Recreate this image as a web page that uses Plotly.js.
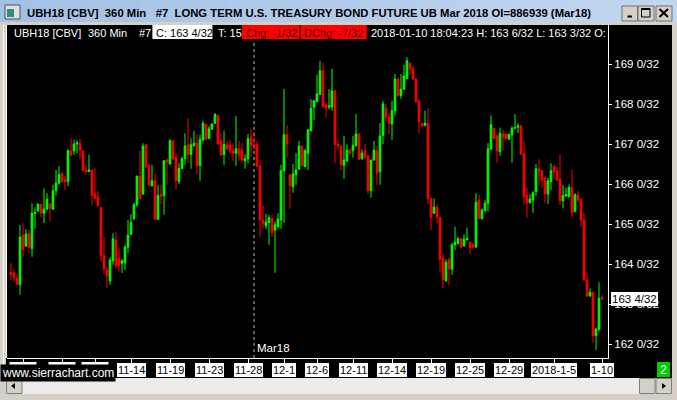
<!DOCTYPE html>
<html><head><meta charset="utf-8">
<script src="https://cdn.plot.ly/plotly-3.0.1.min.js"></script>
<style>html,body{margin:0;padding:0;background:#000;overflow:hidden}</style>
</head><body><div id="chart" style="width:677px;height:400px"></div>
<script>
// ---- DATA (360-minute bars, UBH18) ----
const openP = [163.79,163.77,163.64,163.49,164.71,164.45,164.75,164.39,165.26,165.33,
165.49,165.27,165.37,165.50,165.37,165.83,166.02,166.27,166.10,166.06,
166.83,166.83,167.00,167.02,166.83,166.35,166.31,166.35,165.75,165.68,
165.42,164.21,163.85,163.58,164.08,164.60,164.14,164.02,164.03,164.42,
164.74,165.14,165.48,166.20,165.75,166.99,166.45,165.95,166.08,165.12,
165.73,165.71,166.60,166.50,167.08,166.66,166.06,166.39,166.63,166.98,
166.74,166.96,167.02,166.46,167.10,167.50,167.14,167.37,167.52,167.72,
167.08,166.74,166.97,166.97,166.83,166.77,166.88,166.85,166.58,166.63,
167.16,166.99,166.98,166.45,165.10,164.96,165.04,165.14,164.85,164.93,
165.10,166.33,167.24,166.23,165.93,166.23,166.37,166.95,166.43,166.77,
167.33,167.92,168.06,168.24,168.83,167.98,167.93,167.93,168.33,166.99,
166.95,166.46,166.58,166.83,166.83,166.96,167.25,166.64,166.83,166.70,
165.83,166.60,166.83,166.31,167.21,167.89,167.66,167.50,167.83,168.62,
168.21,168.37,168.64,169.02,168.89,168.62,168.08,167.51,167.46,167.52,
165.64,165.27,165.42,165.17,164.14,163.58,164.10,163.87,164.48,164.52,
164.63,164.46,164.60,164.54,164.48,164.42,165.60,165.13,165.33,165.52,
166.87,167.39,167.20,166.81,167.25,167.25,167.12,167.23,167.39,167.42,
167.45,166.75,165.71,165.53,165.60,165.81,166.38,166.33,166.14,165.75,
166.06,166.45,166.33,166.12,165.58,165.70,165.68,165.91,165.32,165.73,
165.62,165.10,163.60,163.20,163.29,162.21,162.37,163.17];
const highP = [164.02,163.87,163.75,164.98,165.02,164.87,164.85,165.52,165.42,165.52,
165.50,165.89,165.77,165.53,165.98,166.35,166.45,166.27,166.20,166.87,
167.14,167.10,167.08,167.12,166.85,166.48,166.73,166.35,166.39,165.83,
165.42,164.67,163.93,164.17,164.77,164.79,164.39,164.12,164.48,165.10,
165.25,165.53,166.20,166.83,167.02,166.99,166.50,166.48,166.25,165.98,
165.98,166.60,166.64,167.12,167.10,166.77,166.52,166.68,167.27,167.64,
167.14,167.33,167.24,167.23,167.58,167.50,167.45,167.52,167.77,167.72,
167.27,167.33,167.08,167.10,167.02,167.70,167.08,167.02,166.74,167.25,
167.39,167.31,167.08,166.60,165.48,165.25,165.23,165.23,165.06,165.27,
166.48,168.38,167.48,166.23,166.50,166.78,167.08,166.95,166.88,167.37,
168.12,168.10,168.73,169.08,169.02,168.02,168.37,168.88,168.33,167.10,
166.95,167.20,166.99,166.89,167.20,167.75,167.27,166.87,167.00,166.73,
166.60,167.08,166.95,167.52,168.08,168.00,167.77,168.08,168.75,168.66,
168.75,168.98,169.17,169.03,168.95,168.64,168.12,167.53,167.83,167.89,
165.64,165.64,165.48,165.18,164.27,164.12,164.17,164.53,164.93,164.68,
164.66,164.74,164.91,164.56,164.52,165.77,165.73,165.39,165.60,167.02,
167.71,167.41,167.23,167.41,167.35,167.25,167.25,167.45,167.75,167.52,
167.48,167.08,165.91,165.74,165.82,166.50,166.62,166.35,166.18,166.16,
166.52,166.45,166.43,166.73,165.98,165.91,165.99,166.35,165.77,165.83,
165.62,165.29,163.79,163.39,163.31,162.41,163.54,163.1875];
const lowP = [163.60,163.56,163.48,163.23,164.17,164.42,164.27,164.18,164.88,165.31,
165.16,165.02,165.35,165.06,165.35,165.71,165.99,166.03,165.85,165.95,
166.71,166.73,166.77,166.63,166.33,166.24,166.31,165.48,165.62,165.43,
164.06,163.74,163.41,163.48,163.98,163.87,163.81,163.78,163.85,164.28,
164.73,165.10,165.43,165.63,165.73,166.39,165.95,165.95,165.10,165.10,
165.48,165.23,165.98,166.48,166.60,165.87,166.00,166.37,166.48,166.53,
166.38,166.93,166.25,166.08,167.06,167.08,167.12,167.35,167.50,166.98,
166.72,166.48,166.85,166.75,166.58,166.45,166.58,166.53,166.38,166.52,
166.67,166.85,166.43,164.68,164.88,164.88,164.48,164.68,163.78,164.89,
164.88,165.03,166.66,165.38,165.78,165.98,166.35,166.46,166.42,166.35,
167.31,167.60,168.04,168.23,167.93,167.66,167.87,167.83,166.52,166.83,
166.33,166.13,166.54,166.70,166.66,166.93,166.60,166.60,166.63,165.75,
165.66,166.58,165.98,165.98,167.00,167.56,167.25,167.10,167.71,168.18,
168.13,168.35,168.62,168.73,168.60,168.03,167.27,167.42,167.45,165.50,
164.85,165.25,165.02,163.81,163.39,163.56,163.48,163.73,164.35,164.48,
164.39,164.43,164.60,164.25,164.37,164.42,165.12,165.12,165.31,165.31,
166.85,167.12,166.53,166.70,166.83,167.08,167.10,166.53,167.37,167.28,
166.74,165.48,165.16,165.52,165.28,165.70,165.96,165.91,165.52,165.50,
165.85,166.12,166.08,165.48,165.39,165.68,165.67,165.18,165.29,165.56,
164.93,163.57,163.18,163.18,162.03,161.85,162.31,163.09375];
const closeP = [163.74,163.66,163.49,164.67,164.37,164.75,164.42,165.27,165.29,165.49,
165.27,165.37,165.62,165.39,165.83,166.02,166.23,166.06,166.06,166.83,
166.72,167.00,167.03,166.83,166.33,166.31,166.35,165.71,165.64,165.46,
164.21,163.88,163.71,164.10,164.63,163.96,163.96,164.08,164.42,164.72,
165.04,165.48,166.20,165.63,166.95,166.43,165.98,166.08,165.12,165.71,
165.68,166.58,166.56,167.08,166.63,166.08,166.39,166.63,166.95,166.73,
166.98,167.02,166.46,167.12,167.52,167.12,167.38,167.50,167.74,167.00,
166.72,166.99,166.88,166.83,166.77,166.88,166.73,166.60,166.63,167.13,
166.97,166.95,166.43,165.10,165.02,165.05,165.16,164.78,164.98,165.12,
166.33,167.23,167.00,165.96,166.25,166.35,166.95,166.46,166.83,167.35,
167.89,168.08,168.25,168.83,167.93,167.91,167.95,168.33,166.99,166.95,
166.48,166.60,166.85,166.77,166.96,167.25,166.62,166.77,166.68,165.83,
166.60,166.85,166.27,167.20,168.00,167.67,167.52,167.83,168.62,168.21,
168.37,168.70,169.08,168.88,168.62,168.06,167.56,167.45,167.52,165.64,
165.17,165.42,165.17,164.12,163.60,164.04,163.88,164.48,164.54,164.63,
164.42,164.62,164.64,164.42,164.42,165.54,165.14,165.35,165.52,166.88,
167.48,167.14,166.83,167.27,167.17,167.14,167.24,167.39,167.41,167.45,
166.75,165.68,165.53,165.62,165.78,166.38,166.31,166.10,165.75,166.08,
166.33,166.31,166.10,165.58,165.71,165.73,165.91,165.28,165.73,165.60,
165.10,163.60,163.20,163.29,162.21,162.37,163.14,163.125];
const priceTicks = [162,163,164,165,166,167,168,169];
const priceTickText = ['162 0/32','163 0/32','164 0/32','165 0/32','166 0/32','167 0/32','168 0/32','169 0/32'];
// labels whose text is hidden under the watermark: only their box tops show
const hiddenTickIndex = [4,17,28];
const dateTickIndex = [40,53,66,79,91,102,114,127,140,153,166,181,197];
const dateTickText = ['11-14','11-19','11-23','11-28','12-1','12-6','12-11','12-14','12-19','12-25','12-29','2018-1-5','1-10'];
const rollIndex = 81;
const rollLabel = 'Mar18';
const lastPrice = 163.125;
const lastPriceText = '163 4/32';

// ---- LAYOUT HELPERS (pixel positions) ----
const W=677,H=400,L=7,R=608,T=25,B=358;
const fx = x => (x-L)/(R-L);
const fy = y => (B-y)/(B-T);
const barIndex = openP.map((_, i) => i);
const FONT = 'Liberation Sans, Arial, sans-serif';

function rect(x0,y0,x1,y1,fill,line,lw){
  return {type:'rect',xref:'paper',yref:'paper',x0:fx(x0),x1:fx(x1),y0:fy(y1),y1:fy(y0),
    fillcolor:fill,line:{color:line||fill,width:line?(lw||1):0},layer:'above'};
}
function seg(x0,y0,x1,y1,color,w,dash){
  return {type:'line',xref:'paper',yref:'paper',x0:fx(x0),x1:fx(x1),y0:fy(y0),y1:fy(y1),
    line:{color:color,width:w||1,dash:dash||'solid'},layer:'above'};
}
function tri(pts,fill){
  const d = pts.map((p,i)=>(i?'L':'M')+fx(p[0])+','+fy(p[1])).join(' ')+' Z';
  return {type:'path',xref:'paper',yref:'paper',path:d,fillcolor:fill,line:{color:fill,width:0},layer:'above'};
}
function txt(x,y,text,size,color,opts){
  return Object.assign({xref:'paper',yref:'paper',x:fx(x),y:fy(y),text:text,showarrow:false,
    xanchor:'left',yanchor:'middle',font:{family:FONT,size:size,color:color}},opts||{});
}

const shapes = [];
// title bar gradient
const N=24;
for(let k=0;k<N;k++){
  const t=k/(N-1);
  const c=[163+31*t,193+22*t,230+8*t].map(v=>Math.round(v));
  shapes.push(rect(k*W/N,0,(k+1)*W/N+1,22,'rgb('+c.join(',')+')'));
}
const GRAY='#d4d0c8';
shapes.push(rect(0,22,W,25,GRAY));
shapes.push(rect(0,22,6,H,GRAY));
shapes.push(rect(672,22,W,H,GRAY));
shapes.push(rect(0,378,W,H,GRAY));
shapes.push(seg(3.5,25,3.5,378,'#ffffff',1));
// scrollbar
shapes.push(rect(6,378,672,394,'#ebebeb'));
shapes.push(rect(6.5,378.5,22,393.5,GRAY,'#808080'));
shapes.push(tri([[15,383],[11,386],[15,389]],'#000'));
shapes.push(rect(639.5,378.5,655,393.5,GRAY,'#808080'));
shapes.push(rect(656,378.5,671.5,393.5,GRAY,'#808080'));
shapes.push(tri([[662,383],[666,386],[662,389]],'#000'));
// window buttons
shapes.push(rect(622,6,637.5,21,GRAY,'#707070'));
shapes.push(rect(638,6,654,21,GRAY,'#707070'));
shapes.push(rect(656,6,672,21,GRAY,'#707070'));
shapes.push(rect(627.5,15.5,632,17.5,'#000'));
shapes.push(rect(641.5,8.5,650,17,'rgba(0,0,0,0)','#000',1));
shapes.push(seg(641.5,9.5,650,9.5,'#000',1));
shapes.push(seg(659.5,9,668,17,'#000',2));
shapes.push(seg(668,9,659.5,17,'#000',2));
// icon
shapes.push(rect(5,5,20,19,'#e0e0e0','#505050'));
shapes.push(rect(7,9,14,17,'#2f8f80'));
// chart borders
shapes.push(seg(6.5,25,6.5,358,'#ffffff',1));
// header boxes
shapes.push(rect(152.4,25,212.4,39,'#ffffff'));
shapes.push(rect(242,25,299.5,39,'#ff0000'));
shapes.push(rect(300.7,25,366.7,39,'#ff0000'));
// green badge
shapes.push(rect(657,362,670,377,'#00cc00'));
// hidden date-label boxes (tops visible above the watermark)
hiddenTickIndex.forEach(ix=>{
  shapes.push({type:'rect',xref:'x',yref:'paper',x0:ix-4.5,x1:ix+4.5,y0:fy(366),y1:fy(362),
    fillcolor:'#ffffff',line:{width:0},layer:'above'});
});
// contract roll dotted line
shapes.push({type:'line',xref:'x',yref:'paper',x0:rollIndex,x1:rollIndex,y0:0,y1:fy(40),
  line:{color:'#b8b8b8',width:1,dash:'dot'},layer:'below'});

const annotations = [];
annotations.push(txt(25,12.5,'<b>UBH18 [CBV]\u00a0\u00a0360 Min\u00a0\u00a0\u00a0#7\u00a0\u00a0LONG TERM U.S. TREASURY BOND FUTURE UB Mar 2018 OI=886939 (Mar18)</b>',11.3,'#000'));
annotations.push(txt(12,32.5,'UBH18 [CBV]',11,'#fff'));
annotations.push(txt(86,32.5,'360 Min',11,'#fff'));
annotations.push(txt(137,32.5,'#7',11,'#fff'));
annotations.push(txt(154,32.5,'C: 163 4/32',11,'#000'));
annotations.push(txt(216,32.5,'T: 15',11,'#fff'));
annotations.push(txt(243.5,32.5,'Chg: -1/32',11,'#4a0000'));
annotations.push(txt(302,32.5,'DChg: -7/32',11,'#4a0000'));
annotations.push(txt(369,32.5,'2018-01-10 18:04:23 H: 163 6/32 L: 163 3/32 O:',11,'#fff'));
// date labels
dateTickIndex.forEach((ix,k)=>{
  annotations.push({xref:'x',yref:'paper',x:ix,y:fy(369.5),text:dateTickText[k],showarrow:false,
    xanchor:'center',yanchor:'middle',bgcolor:'#ffffff',borderpad:1,borderwidth:0,
    font:{family:FONT,size:11,color:'#000'}});
});
// watermark
annotations.push(txt(0,372.5,'www.sierrachart.com',12,'#fff',{bgcolor:'#000',borderpad:1}));
annotations.push(txt(663.5,369.5,'2',12,'#fff',{xanchor:'center'}));
// roll label
annotations.push({xref:'x',yref:'paper',x:rollIndex,y:fy(347.5),text:rollLabel,showarrow:false,
  xanchor:'left',yanchor:'middle',xshift:1,font:{family:FONT,size:11.5,color:'#fff'}});
// last price box
annotations.push({xref:'paper',yref:'y',x:fx(611),y:lastPrice,text:lastPriceText,showarrow:false,
  xanchor:'left',yanchor:'middle',bgcolor:'#ffffff',borderpad:1,borderwidth:0,
  font:{family:FONT,size:11.5,color:'#000'}});

const trace = {
  type:'candlestick', x:barIndex, open:openP, high:highP, low:lowP, close:closeP,
  increasing:{line:{color:'#00ff00',width:1},fillcolor:'#00ff00'},
  decreasing:{line:{color:'#ff0000',width:1},fillcolor:'#ff0000'},
  whiskerwidth:0, hoverinfo:'skip', showlegend:false
};

const layout = {
  width:W,height:H,margin:{l:L,r:W-R,t:T,b:H-B,pad:0},
  paper_bgcolor:'#000',plot_bgcolor:'#000',showlegend:false,
  boxgap:0.45,boxgroupgap:0,
  xaxis:{range:[(L-11)/3,(R-11)/3],rangeslider:{visible:false},showgrid:false,zeroline:false,
    showline:true,linecolor:'#fff',linewidth:1,ticks:'outside',ticklen:4,tickcolor:'#fff',
    tickvals:hiddenTickIndex.concat(dateTickIndex),showticklabels:false,fixedrange:true},
  yaxis:{range:[169-(B-64)/40,169+(64-T)/40],side:'right',showgrid:false,zeroline:false,
    showline:true,linecolor:'#fff',linewidth:1,ticks:'outside',ticklen:3,tickcolor:'#fff',
    tickvals:priceTicks,ticktext:priceTickText,tickfont:{family:FONT,size:11.5,color:'#fff'},fixedrange:true},
  shapes:shapes, annotations:annotations
};
Plotly.newPlot('chart',[trace],layout,{displayModeBar:false,staticPlot:true});
</script></body></html>
